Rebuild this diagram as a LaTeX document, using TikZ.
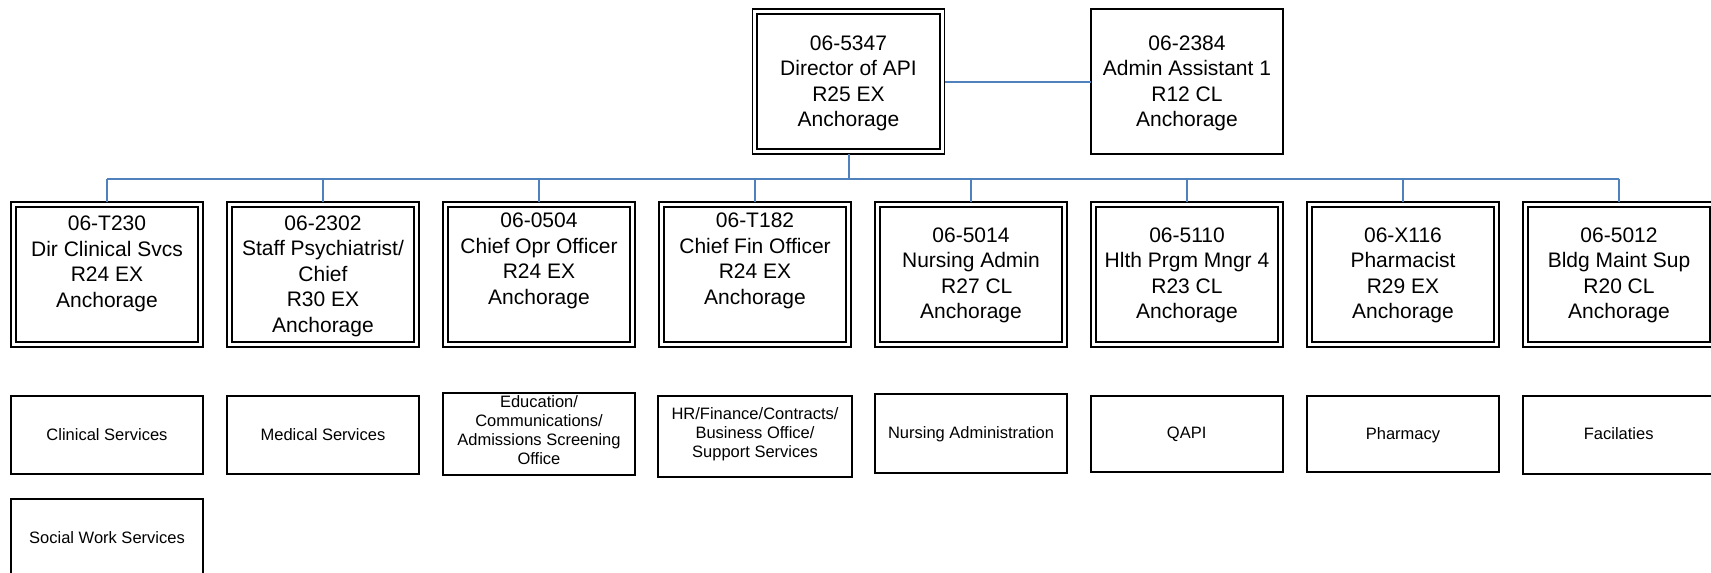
\documentclass[tikz,border=0pt]{standalone}
\usepackage{fontspec}
\setmainfont{Liberation Sans}
\definecolor{connblue}{RGB}{79,129,189}
\tikzset{
  posbox/.style={draw, line width=1.2pt, inner sep=0pt, outer sep=0pt, minimum width=192pt, minimum height=145pt},
  unitbox/.style={draw, line width=1.8pt, inner sep=0pt, outer sep=0pt, minimum width=192pt},
  bigtxt/.style={font=\fontsize{21}{25.5}\selectfont, align=center, inner sep=0pt},
  smalltxt/.style={font=\fontsize{16.5}{18.9}\selectfont, align=center, inner sep=0pt},
  conn/.style={draw=connblue, line width=2pt},
  innerline/.style={line width=1.8pt}
}
\newcommand{\innerframe}[1]{\draw[innerline] ([shift={(4.7pt,-4.7pt)}]#1.north west) rectangle ([shift={(-4.7pt,4.7pt)}]#1.south east);}
\begin{document}
\begin{tikzpicture}[x=1pt,y=-1pt]
\useasboundingbox (0,0) rectangle (1711,573);
\clip (0,0) rectangle (1711,573);

% top level
\node[posbox] (dir) at (848.5,81.5) {};
\innerframe{dir}
\node[bigtxt] (dirt) at (848.5,83.5) {06-5347\\Director of API\\R25 EX\\Anchorage};
\node[draw, line width=2.3pt, inner sep=0pt, outer sep=0pt, minimum width=192pt, minimum height=145pt] (adm) at (1187,81.5) {};
\node[bigtxt] (admt) at (1187,83.5) {06-2384\\Admin Assistant 1\\R12 CL\\Anchorage};

% second row boxes
\foreach \i in {0,...,7}{
  \node[posbox] (b\i) at ({107+216*\i},274.5) {};
  \innerframe{b\i}
}
\node[bigtxt] (t0) at (107,264) {06-T230\\Dir Clinical Svcs\\R24 EX\\Anchorage};
\node[bigtxt] (t1) at (323,276) {06-2302\\Staff Psychiatrist/\\Chief\\R30 EX\\Anchorage};
\node[bigtxt] (t2) at (539,261) {06-0504\\Chief Opr Officer\\R24 EX\\Anchorage};
\node[bigtxt] (t3) at (755,261) {06-T182\\Chief Fin Officer\\R24 EX\\Anchorage};
\node[bigtxt] (t4) at (971,275.5) {06-5014\\Nursing Admin\\\hspace*{0.55em}R27 CL\\Anchorage};
\node[bigtxt] (t5) at (1187,275.5) {06-5110\\Hlth Prgm Mngr 4\\R23 CL\\Anchorage};
\node[bigtxt] (t6) at (1403,275.5) {06-X116\\Pharmacist\\R29 EX\\Anchorage};
\node[bigtxt] (t7) at (1619,275.5) {06-5012\\Bldg Maint Sup\\R20 CL\\Anchorage};

% connectors
\coordinate (bus) at (848.5,178.5);
\draw[conn] (dir.east) -- (adm.west);
\draw[conn] (dir.south) -- (dir.south |- bus);
\draw[conn] (b0.north |- bus) -- (b7.north |- bus);
\foreach \i in {0,...,7}{
  \draw[conn] (b\i.north |- bus) -- (b\i.north);
}

% third row units
\node[unitbox, minimum height=78.3pt] (u0) at (107,434.9) {};
\node[smalltxt] (v0) at (107,435) {Clinical Services};
\node[unitbox, minimum height=78.3pt] (u1) at (323,434.9) {};
\node[smalltxt] (v1) at (323,435) {Medical Services};
\node[unitbox, minimum height=82pt] (u2) at (539,434) {};
\node[smalltxt] (v2) at (539,430) {Education/\\Communications/\\Admissions Screening\\Office};
\node[unitbox, minimum height=81.3pt, minimum width=194pt] (u3) at (755,436.3) {};
\node[smalltxt] (v3) at (755,434) {HR/Finance/Contracts/\\Business Office/\\Support Services};
\node[unitbox, minimum height=79pt] (u4) at (971,433.1) {};
\node[smalltxt] (v4) at (971,434.5) {Nursing Administration};
\node[unitbox, minimum height=76.6pt] (u5) at (1186.7,434) {};
\node[smalltxt] (v5) at (1186.7,434) {QAPI};
\node[unitbox, minimum height=76.6pt] (u6) at (1403,434) {};
\node[smalltxt] (v6) at (1403,435.5) {Pharmacy};
\node[unitbox, minimum height=78.6pt] (u7) at (1618.7,435) {};
\node[smalltxt] (v7) at (1618.7,434) {Facilaties};
\node[unitbox, minimum height=78pt] (u8) at (107,538.3) {};
\node[smalltxt] (v8) at (107,537.3) {Social Work Services};
\end{tikzpicture}
\end{document}
